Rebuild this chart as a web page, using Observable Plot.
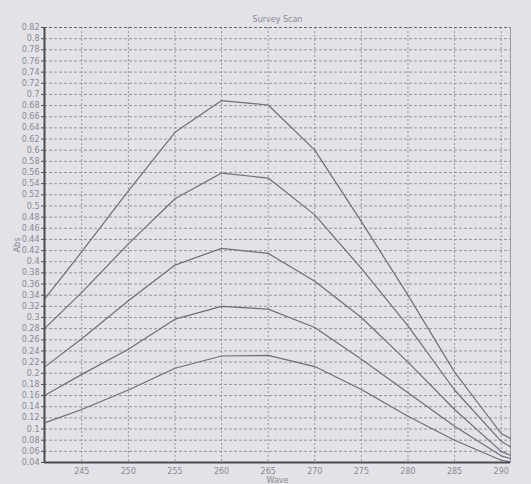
<!DOCTYPE html>
<html><head><meta charset="utf-8">
<script src="https://cdn.jsdelivr.net/npm/d3@7"></script>
<script src="https://cdn.jsdelivr.net/npm/@observablehq/plot@0.6"></script>
<style>
html,body{margin:0;padding:0;background:#e3e2e9;}
#chart svg{display:block;background:linear-gradient(to right,#e7e1e5 0%,#dfe0ea 45%,#e1e3ec 70%,#eae2e0 100%);}
</style>
</head><body><div id="chart"></div>
<script>
const waves = [241, 245, 250, 255, 260, 265, 270, 275, 280, 285, 290, 291];
const scan1 = [0.333, 0.418, 0.527, 0.632, 0.689, 0.681, 0.600, 0.472, 0.340, 0.202, 0.092, 0.083];
const scan2 = [0.280, 0.345, 0.432, 0.513, 0.559, 0.550, 0.484, 0.388, 0.285, 0.170, 0.078, 0.068];
const scan3 = [0.211, 0.262, 0.330, 0.394, 0.424, 0.415, 0.365, 0.300, 0.220, 0.135, 0.060, 0.053];
const scan4 = [0.160, 0.198, 0.243, 0.297, 0.320, 0.315, 0.282, 0.225, 0.165, 0.105, 0.052, 0.047];
const scan5 = [0.111, 0.135, 0.170, 0.209, 0.231, 0.232, 0.212, 0.171, 0.123, 0.080, 0.044, 0.041];
const seriesNames = ["Scan 1", "Scan 2", "Scan 3", "Scan 4", "Scan 5"];
const xTicks = [245, 250, 255, 260, 265, 270, 275, 280, 285, 290];
const yTicks = [0.04, 0.06, 0.08, 0.1, 0.12, 0.14, 0.16, 0.18, 0.2, 0.22, 0.24, 0.26, 0.28, 0.3, 0.32, 0.34, 0.36, 0.38, 0.4, 0.42, 0.44, 0.46, 0.48, 0.5, 0.52, 0.54, 0.56, 0.58, 0.6, 0.62, 0.64, 0.66, 0.68, 0.7, 0.72, 0.74, 0.76, 0.78, 0.8, 0.82];
const title = "Survey Scan";
const xLabel = "Wave";
const yLabel = "Abs";
const xDomain = [241, 291];
const yDomain = [0.04, 0.82];

const allSeries = [scan1, scan2, scan3, scan4, scan5];
const data = [];
allSeries.forEach((vals, i) => {
  vals.forEach((v, j) => data.push({series: seriesNames[i], wave: waves[j], abs: v}));
});

const textColor = "#8a8a90";
const chart = Plot.plot({
  width: 531,
  height: 484,
  marginTop: 27,
  marginBottom: 22,
  marginLeft: 44,
  marginRight: 21,
  style: {fontFamily: "DejaVu Sans, sans-serif", fontSize: "8px", color: textColor, background: "transparent"},
  x: {domain: xDomain},
  y: {domain: yDomain},
  marks: [
    Plot.ruleY(yTicks, {stroke: "#8c8c94", strokeWidth: 0.9, strokeDasharray: "3,2"}),
    Plot.ruleX(xTicks, {stroke: "#8c8c94", strokeWidth: 0.9, strokeDasharray: "2,2"}),
    Plot.ruleX([xDomain[1]], {stroke: "#9a9aa2", strokeWidth: 1}),
    Plot.ruleY([yDomain[1]], {stroke: "#6a6a72", strokeWidth: 1.2, strokeDasharray: "3,2"}),
    Plot.line(data, {x: "wave", y: "abs", z: "series", stroke: "#6e6e78", strokeWidth: 1.2}),
    Plot.ruleX([xDomain[0]], {stroke: "#4a4a52", strokeWidth: 2}),
    Plot.ruleY([yDomain[0]], {stroke: "#4a4a52", strokeWidth: 2}),
    Plot.axisY({ticks: yTicks, tickSize: 3, tickPadding: 2, stroke: "#4a4a52",
      tickFormat: d => String(+d.toFixed(2)), fill: textColor,
      label: yLabel, labelAnchor: "center", labelArrow: "none", labelOffset: 30}),
    Plot.axisX({ticks: xTicks, tickSize: 0, tickPadding: 6, fill: textColor,
      label: xLabel, labelAnchor: "center", labelArrow: "none", labelOffset: 20}),
    Plot.text([title], {frameAnchor: "top", dy: -11, fill: textColor, fontSize: 8})
  ]
});
document.getElementById("chart").appendChild(chart);
</script>
</body></html>
